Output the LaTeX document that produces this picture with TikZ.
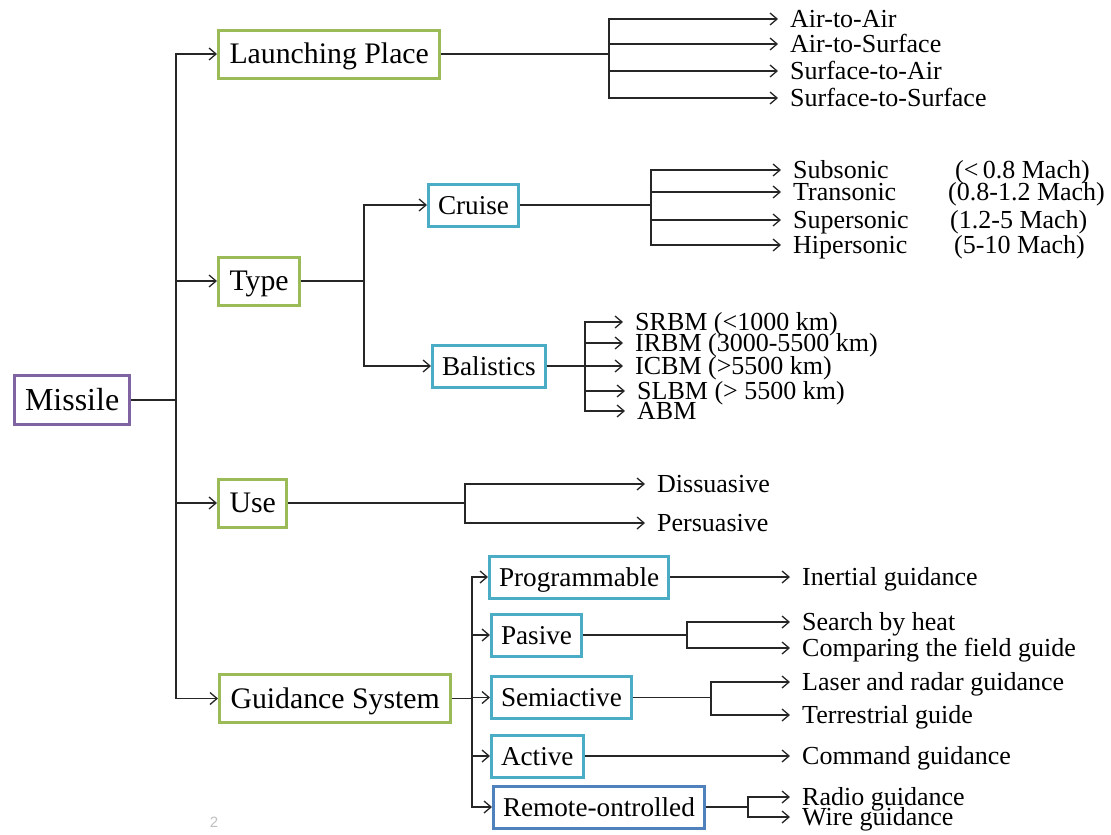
\documentclass[tikz,border=0pt]{standalone}
\usepackage{fontspec}
\setmainfont{Liberation Serif}
\newfontfamily\pagenumfont{Liberation Sans}
\usetikzlibrary{arrows.meta}
\definecolor{boxpurple}{HTML}{8064A2}
\definecolor{boxgreen}{HTML}{9BBB59}
\definecolor{boxteal}{HTML}{4BACC6}
\definecolor{boxblue}{HTML}{4F81BD}
\definecolor{wire}{HTML}{262626}

\begin{document}
\begin{tikzpicture}[x=1pt,y=-1pt,
  box/.style={draw, line width=3pt, fill=white, inner ysep=0pt,
    text depth=0pt, anchor=west},
  rootbox/.style={box, draw=boxpurple, inner xsep=10.5pt,
    font=\fontsize{32}{37}\selectfont, text height=21.2pt, minimum height=49pt},
  mainbox/.style={box, draw=boxgreen, inner xsep=11pt,
    font=\fontsize{29.8}{34}\selectfont, text height=19.7pt, minimum height=48pt},
  subbox/.style={box, draw=boxteal, inner xsep=9.5pt,
    font=\fontsize{27.2}{31}\selectfont, text height=18pt, minimum height=42pt},
  leaf/.style={anchor=west, inner xsep=12pt, inner ysep=0pt,
    font=\fontsize{26}{30}\selectfont, text height=17.2pt, text depth=0pt},
  note/.style={anchor=west, inner sep=0pt,
    font=\fontsize{26}{30}\selectfont, text height=17.2pt, text depth=0pt},
  link/.style={draw=wire, line width=1.3pt},
  arr/.style={link, -{Straight Barb[length=7pt,width=12pt]}},
]
\useasboundingbox (0,0) rectangle (1111,835);

% ---------- boxes ----------
\node[rootbox] (missile) at (13,400) {Missile};

\node[mainbox] (launch) at (217,54)    {Launching Place};
\node[mainbox] (type)   at (217,281)   {Type};
\node[mainbox] (use)    at (217,503)   {Use};
\node[mainbox] (guide)  at (218,698.5) {Guidance System};

\node[subbox] (cruise) at (427,205) {Cruise};
\node[subbox] (balist) at (431,366) {Balistics};

\node[subbox] (prog)   at (488,577) {Programmable};
\node[subbox] (pasive) at (490,635) {Pasive};
\node[subbox] (semi)   at (490,697.5) {Semiactive};
\node[subbox] (active) at (490,756) {Active};
\node[subbox, draw=boxblue] (remote) at (492,807) {Remote-ontrolled};

% ---------- leaves ----------
\node[leaf] (aa) at (778,19) {Air-to-Air};
\node[leaf] (as) at (778,44) {Air-to-Surface};
\node[leaf] (sa) at (778,71) {Surface-to-Air};
\node[leaf] (ss) at (778,98) {Surface-to-Surface};

\node[leaf] (sub)   at (781,170) {Subsonic};
\node[leaf] (trans) at (781,192) {Transonic};
\node[leaf] (sup)   at (781,220) {Supersonic};
\node[leaf] (hip)   at (781,245) {Hipersonic};
\node[note] (subm)   at (955,170) {(<\,0.8 Mach)};
\node[note] (transm) at (948,192) {(0.8-1.2 Mach)};
\node[note] (supm)   at (950,220) {(1.2-5 Mach)};
\node[note] (hipm)   at (954,245) {(5-10 Mach)};

\node[leaf] (srbm) at (623,322) {SRBM (<1000 km)};
\node[leaf] (irbm) at (623,343) {IRBM (3000-5500 km)};
\node[leaf] (icbm) at (623,366) {ICBM (>5500 km)};
\node[leaf] (slbm) at (625,391) {SLBM (> 5500 km)};
\node[leaf] (abm)  at (625,411) {ABM};

\node[leaf] (dis) at (645,484) {Dissuasive};
\node[leaf] (per) at (645,523) {Persuasive};

\node[leaf] (inert)  at (790,577) {Inertial guidance};
\node[leaf] (heat)   at (790,622) {Search by heat};
\node[leaf] (field)  at (790,648) {Comparing the field guide};
\node[leaf] (laser)  at (790,682) {Laser and radar guidance};
\node[leaf] (terr)   at (790,715) {Terrestrial guide};
\node[leaf] (cmd)    at (790,756) {Command guidance};
\node[leaf] (radio)  at (790,797) {Radio guidance};
\node[leaf] (wire)   at (790,817) {Wire guidance};

\node[anchor=center, inner sep=0pt, text=black!25,
  font=\pagenumfont\fontsize{15}{18}\selectfont] (pnum) at (214,822) {2};

% ---------- junction points ----------
\coordinate (jroot)   at (176,400);
\coordinate (jlaunch) at (609,54);
\coordinate (jtype)   at (364,281);
\coordinate (jcruise) at (651,205);
\coordinate (jbalist) at (585,366);
\coordinate (juse)    at (465,503);
\coordinate (jguide)  at (472,698.5);
\coordinate (jpasive) at (687,635);
\coordinate (jsemi)   at (711,697.5);
\coordinate (jremote) at (748,807);

% ---------- connectors ----------
\draw[link] (missile.east) -- (jroot);
\foreach \t in {launch,type,use,guide} \draw[arr] (jroot) |- (\t.west);

\draw[link] (launch.east) -- (jlaunch);
\foreach \t in {aa,as,sa,ss} \draw[arr] (jlaunch) |- (\t.west);

\draw[link] (type.east) -- (jtype);
\foreach \t in {cruise,balist} \draw[arr] (jtype) |- (\t.west);

\draw[link] (cruise.east) -- (jcruise);
\foreach \t in {sub,trans,sup,hip} \draw[arr] (jcruise) |- (\t.west);

\draw[link] (balist.east) -- (jbalist);
\foreach \t in {srbm,irbm,icbm,slbm,abm} \draw[arr] (jbalist) |- (\t.west);

\draw[link] (use.east) -- (juse);
\foreach \t in {dis,per} \draw[arr] (juse) |- (\t.west);

\draw[link] (guide.east) -- (jguide);
\foreach \t in {prog,pasive,semi,active,remote} \draw[arr] (jguide) |- (\t.west);

\draw[arr] (prog.east) -- (inert.west);
\draw[link] (pasive.east) -- (jpasive);
\foreach \t in {heat,field} \draw[arr] (jpasive) |- (\t.west);
\draw[link] (semi.east) -- (jsemi);
\foreach \t in {laser,terr} \draw[arr] (jsemi) |- (\t.west);
\draw[arr] (active.east) -- (cmd.west);
\draw[link] (remote.east) -- (jremote);
\foreach \t in {radio,wire} \draw[arr] (jremote) |- (\t.west);
\end{tikzpicture}
\end{document}
